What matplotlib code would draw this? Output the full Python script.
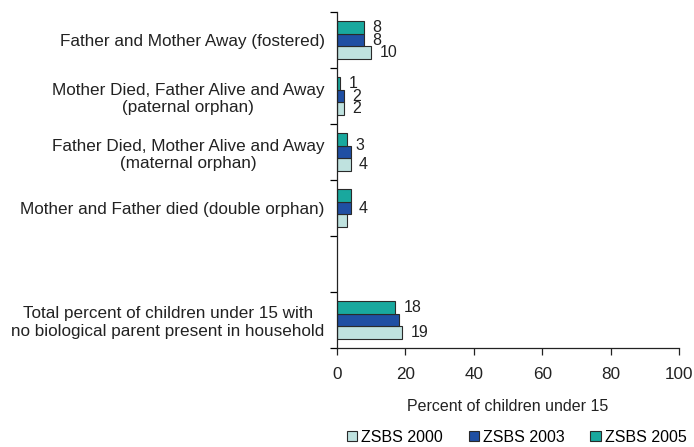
import matplotlib
matplotlib.use("Agg")
import matplotlib.pyplot as plt
import matplotlib.patches as mpatches
import numpy as np

plt.rcParams["font.family"] = ["Liberation Sans", "DejaVu Sans"]

# ---- data (top to bottom) ----
categories = [
    "Father and Mother Away (fostered)",
    "Mother Died, Father Alive and Away\n(paternal orphan)",
    "Father Died, Mother Alive and Away\n(maternal orphan)",
    "Mother and Father died (double orphan)",
    "",
    "Total percent of children under 15 with\nno biological parent present in household",
]
series = ["ZSBS 2000", "ZSBS 2003", "ZSBS 2005"]
zsbs_2000 = [10, 2, 4, 3, np.nan, 19]
zsbs_2003 = [8, 2, 4, 4, np.nan, 18]
zsbs_2005 = [8, 1, 3, 4, np.nan, 17]
# printed value labels: (category, series index, text, vertical nudge in bar heights)
value_labels = [
    (0, 2, "8", 0.0), (0, 1, "8", 0.0), (0, 0, "10", 0.0),
    (1, 2, "1", 0.0), (1, 1, "2", 0.0), (1, 0, "2", 0.0),
    (2, 2, "3", 0.5), (2, 0, "4", 0.0),
    (3, 1, "4", 0.0),
    (5, 2, "18", 0.0), (5, 0, "19", 0.0),
]

COLORS = ["#bfe2df", "#1f4fa3", "#19a89e"]
EDGE = "#2a2a2a"
TXT = "#222222"
BAR_H = 0.225
FS = 12.3       # category / tick labels
FS_VAL = 11.5   # numbers next to bars
FS_SMALL = 11.5 # axis title, legend

fig = plt.figure(figsize=(6.94, 4.47), dpi=100)
ax = fig.add_axes([0.4856, 0.2215, 0.4928, 0.7515])

n = len(categories)
yc = np.arange(n)
values = [zsbs_2000, zsbs_2003, zsbs_2005]
offsets = [BAR_H, 0.0, -BAR_H]   # 2000 bottom, 2005 top (axis inverted)
for vals, off, col in zip(values, offsets, COLORS):
    ax.barh(yc + off, vals, height=BAR_H, color=col, edgecolor=EDGE, linewidth=0.8)

for ci, si, txt, nudge in value_labels:
    v = values[si][ci]
    y = yc[ci] + offsets[si] + nudge * BAR_H
    ax.annotate(txt, (v, y), xytext=(6, 0), textcoords="offset points",
                va="center", ha="left", fontsize=FS_VAL, color=TXT)

ax.set_ylim(n - 0.5, -0.5)
ax.set_xlim(0, 100)
ax.set_xticks([0, 20, 40, 60, 80, 100])
ax.tick_params(axis="x", labelsize=FS, length=5, width=0.9, pad=9, colors=TXT)
ax.set_yticks(yc)
ax.set_yticklabels(categories, fontsize=FS, multialignment="center", color=TXT)
ax.tick_params(axis="y", length=0, pad=9)
ax.set_yticks(np.arange(-0.5, n, 1.0), minor=True)
ax.tick_params(axis="y", which="minor", length=5, width=0.9)
for s in ["top", "right"]:
    ax.spines[s].set_visible(False)
for s in ["left", "bottom"]:
    ax.spines[s].set_linewidth(0.9)
    ax.spines[s].set_color(TXT)

ax.set_xlabel("Percent of children under 15", fontsize=FS_SMALL, labelpad=12, color=TXT)

handles = [mpatches.Patch(facecolor=c, edgecolor=EDGE, linewidth=0.8, label=s)
           for c, s in zip(COLORS, series)]
fig.legend(handles=handles, loc="center left", bbox_to_anchor=(347 / 694, 1 - 437 / 447),
           ncol=3, frameon=False, fontsize=FS_SMALL, handlelength=0.65, handleheight=0.65,
           handletextpad=0.25, columnspacing=1.6, borderpad=0, borderaxespad=0)

fig.savefig("out.png", dpi=100)
